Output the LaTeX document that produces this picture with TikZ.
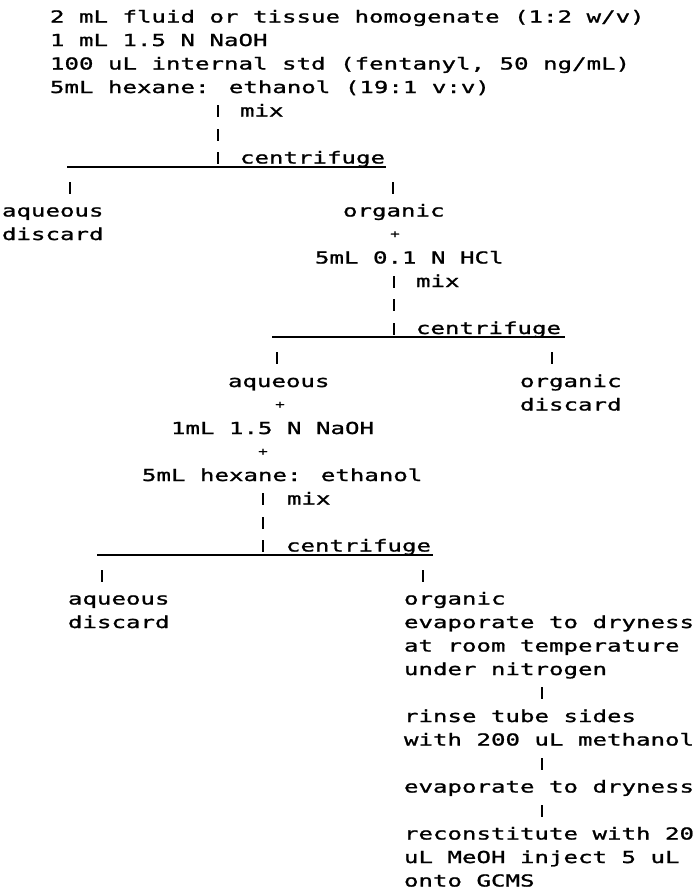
\documentclass[tikz,border=0pt]{standalone}
\usepackage{fontspec}
\newfontfamily\dmfam[FakeStretch=1.46,FakeBold=1.2]{DejaVu Sans Mono}
\tikzset{
  txt/.style={anchor=base west, inner sep=0pt, outer sep=0pt, font=\dmfam\fontsize{16.5}{20}\selectfont},
  plussign/.style={inner sep=0pt, outer sep=0pt, font=\dmfam\fontsize{11}{11}\selectfont},
  tick/.style={fill=black, draw=none, minimum width=2pt, minimum height=12pt, inner sep=0pt, outer sep=0pt},
  uline/.style={line width=2pt}
}
\begin{document}
\begin{tikzpicture}[x=1pt,y=1pt]
\useasboundingbox (0,0) rectangle (698,-895);
\fill[white] (0,0) rectangle (698,-895);
% block 1
\node[txt] (l1) at (50,-22.5) {2 mL fluid or tissue homogenate (1:2 w/v)};
\node[txt] (l2) at (50,-46) {1 mL 1.5 N NaOH};
\node[txt] (l3) at (50,-69.5) {100 uL internal std (fentanyl, 50 ng/mL)};
\node[txt] (l4) at (50,-93) {5mL hexane: ethanol (19:1 v:v)};
\node[tick] (t1a) at (218,-111) {};
\node[txt] (mix1) at (240,-116.5) {mix};
\node[tick] (t1b) at (218,-134.5) {};
\node[tick] (t1c) at (218,-158) {};
\node[txt] (cf1) at (240,-163.5) {centrifuge};
\coordinate (u1a) at (67,-166.5);
\coordinate (u1b) at (386,-166.5);
\draw[uline] (u1a) -- (u1b);
\node[tick] (t1l) at (70,-187.5) {};
\node[tick] (t1r) at (393,-187.5) {};
\node[txt] (aq1) at (2,-216.5) {aqueous};
\node[txt] (dc1) at (2,-240) {discard};
\node[txt] (or1) at (343,-216.5) {organic};
\node[plussign] (p1) at (395,-234.5) {+};
\node[txt] (hcl) at (315,-263.5) {5mL 0.1 N HCl};
% block 2
\node[tick] (t2a) at (394,-281.5) {};
\node[txt] (mix2) at (416,-287) {mix};
\node[tick] (t2b) at (394,-305) {};
\node[tick] (t2c) at (394,-328.5) {};
\node[txt] (cf2) at (416,-334) {centrifuge};
\coordinate (u2a) at (272,-337);
\coordinate (u2b) at (565,-337);
\draw[uline] (u2a) -- (u2b);
\node[tick] (t2l) at (277,-358) {};
\node[tick] (t2r) at (552,-358) {};
\node[txt] (aq2) at (228,-387) {aqueous};
\node[plussign] (p2) at (280,-405) {+};
\node[txt] (or2) at (520,-387) {organic};
\node[txt] (dc2) at (520,-410.5) {discard};
\node[txt] (naoh) at (171,-434) {1mL 1.5 N NaOH};
\node[plussign] (p3) at (263,-452) {+};
\node[txt] (hex) at (142,-481) {5mL hexane: ethanol};
% block 3
\node[tick] (t3a) at (263,-499) {};
\node[txt] (mix3) at (287,-504.5) {mix};
\node[tick] (t3b) at (263,-522.5) {};
\node[tick] (t3c) at (263,-546) {};
\node[txt] (cf3) at (286,-551.5) {centrifuge};
\coordinate (u3a) at (97,-554.5);
\coordinate (u3b) at (433,-554.5);
\draw[uline] (u3a) -- (u3b);
\node[tick] (t3l) at (102,-575.5) {};
\node[tick] (t3r) at (423,-575.5) {};
\node[txt] (aq3) at (68,-604.5) {aqueous};
\node[txt] (dc3) at (68,-628) {discard};
\node[txt] (or3) at (404,-604.5) {organic};
\node[txt] (ev1) at (404,-628) {evaporate to dryness};
\node[txt] (rt) at (404,-651.5) {at room temperature};
\node[txt] (n2) at (404,-675) {under nitrogen};
\node[tick] (t4a) at (542,-693) {};
\node[txt] (rin) at (404,-722) {rinse tube sides};
\node[txt] (meth) at (404,-745.5) {with 200 uL methanol};
\node[tick] (t4b) at (542,-763.5) {};
\node[txt] (ev2) at (404,-792.5) {evaporate to dryness};
\node[tick] (t4c) at (542,-810.5) {};
\node[txt] (rec) at (404,-839.5) {reconstitute with 20};
\node[txt] (inj) at (404,-863) {uL MeOH inject 5 uL};
\node[txt] (gc) at (404,-886.5) {onto GCMS};
\end{tikzpicture}
\end{document}
